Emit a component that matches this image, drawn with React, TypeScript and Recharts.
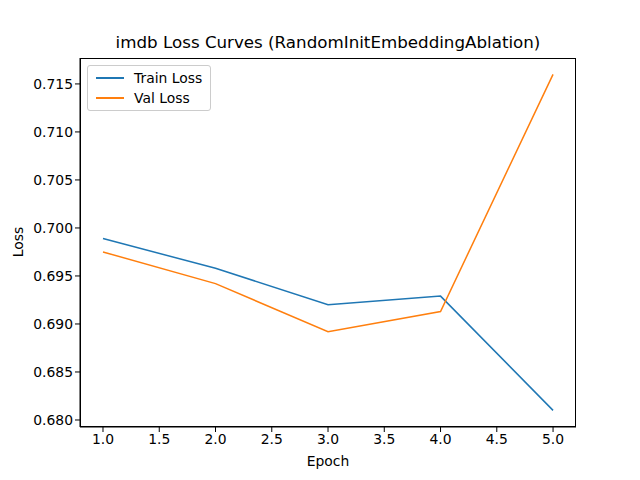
import { LineChart, Line, XAxis, YAxis } from "recharts";

const epochs = [1, 2, 3, 4, 5];
const trainLoss = [0.6989, 0.6958, 0.692, 0.6929, 0.681];
const valLoss = [0.6975, 0.6942, 0.6892, 0.6913, 0.716];
const xTicks = [1.0, 1.5, 2.0, 2.5, 3.0, 3.5, 4.0, 4.5, 5.0];
const yTicks = [0.68, 0.685, 0.69, 0.695, 0.7, 0.705, 0.71, 0.715];

const data = epochs.map((e, i) => ({ epoch: e, train: trainLoss[i], val: valLoss[i] }));

const font = "DejaVu Sans, sans-serif";
const tick = { fontSize: 13.9, fill: "#000", fontFamily: font };

function LegendBox() {
  return (
    <div
      style={{
        position: "absolute",
        left: 87,
        top: 65,
        border: "1px solid #ccc",
        borderRadius: 3,
        background: "#fff",
        padding: "2px 8px",
        fontFamily: font,
        fontSize: 13.9,
        lineHeight: "20px",
      }}
    >
      {[
        ["Train Loss", "#1f77b4"],
        ["Val Loss", "#ff7f0e"],
      ].map(([n, c]) => (
        <div key={n} style={{ display: "flex", alignItems: "center" }}>
          <span style={{ width: 28, height: 2, background: c, marginRight: 10, display: "inline-block" }} />
          {n}
        </div>
      ))}
    </div>
  );
}

export default function App() {
  return (
    <div style={{ position: "absolute", left: 0, top: 0, width: 640, height: 480, background: "#fff" }}>
      <div
        style={{
          position: "absolute",
          top: 32,
          left: 80,
          width: 496,
          textAlign: "center",
          fontFamily: font,
          fontSize: 16.7,
        }}
      >
        imdb Loss Curves (RandomInitEmbeddingAblation)
      </div>
      <LineChart width={640} height={480} data={data} margin={{ top: 58, right: 64, left: 20, bottom: 23 }}>
        <XAxis
          dataKey="epoch"
          type="number"
          domain={[0.7956, 5.204]}
          ticks={xTicks}
          tickFormatter={(v) => v.toFixed(1)}
          tick={tick}
          stroke="#000"
          height={30}
          tickSize={5}
          allowDataOverflow
        />
        <YAxis
          type="number"
          domain={[0.67927, 0.7177]}
          ticks={yTicks}
          tickFormatter={(v) => v.toFixed(3)}
          tick={tick}
          stroke="#000"
          width={60}
          tickSize={5}
          allowDataOverflow
        />
        <Line dataKey="train" stroke="#1f77b4" strokeWidth={1.5} dot={false} isAnimationActive={false} />
        <Line dataKey="val" stroke="#ff7f0e" strokeWidth={1.5} dot={false} isAnimationActive={false} />
      </LineChart>
      <div
        style={{
          position: "absolute",
          left: 80,
          top: 58,
          width: 496,
          height: 369,
          border: "1px solid #000",
          boxSizing: "border-box",
          pointerEvents: "none",
        }}
      />
      <div style={{ position: "absolute", left: 80, width: 496, top: 453, textAlign: "center", fontFamily: font, fontSize: 13.9 }}>
        Epoch
      </div>
      <div
        style={{
          position: "absolute",
          left: 18,
          top: 242,
          fontFamily: font,
          fontSize: 13.9,
          transform: "translate(-50%, -50%) rotate(-90deg)",
        }}
      >
        Loss
      </div>
      <LegendBox />
    </div>
  );
}
